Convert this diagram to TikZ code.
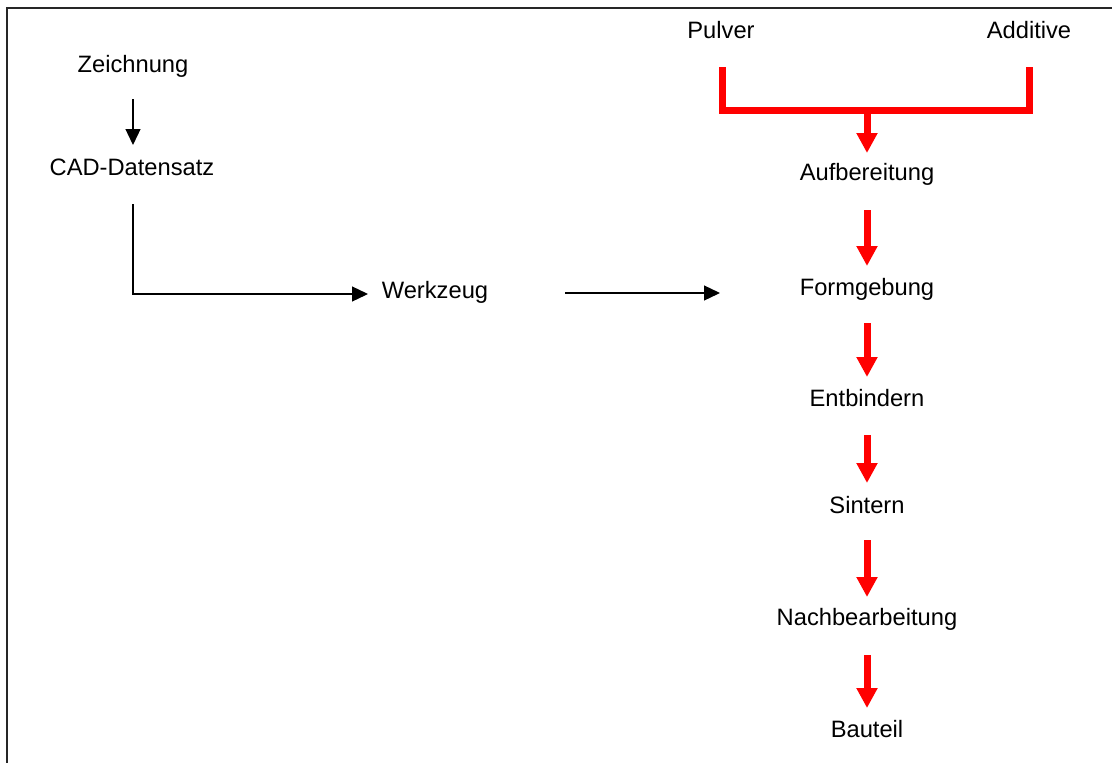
\documentclass[tikz,border=0pt]{standalone}
\usepackage{fontspec}
\setmainfont{Liberation Sans}
\usetikzlibrary{arrows.meta,calc}
\begin{document}
\begin{tikzpicture}[x=1pt,y=-1pt,
  lbl/.style={anchor=base,inner sep=0pt,font=\fontsize{23.7}{28}\selectfont},
  blk/.style={line width=1.3pt,-{Triangle[length=16pt,width=15pt]}},
  redarr/.style={draw=red,line width=7pt,-{Triangle[length=20pt,width=20pt]},red},
  redline/.style={draw=red,line width=7pt,line join=miter,line cap=butt},
  frame/.style={line width=1.7pt,draw=black!85}]
\useasboundingbox (0,0) rectangle (1112,763);
\draw[frame] (7,764) -- (7,8) -- (1113,8);
% left chain
\node[lbl] (zeich) at (133,72) {Zeichnung};
\node[lbl] (cad) at (132,175) {CAD-Datensatz};
\node[lbl] (werk) at (435,298) {Werkzeug};
% right chain
\node[lbl] (pulver) at (721,38) {Pulver};
\node[lbl] (additive) at (1029,38) {Additive};
\node[lbl] (aufb) at (867,180) {Aufbereitung};
\node[lbl] (form) at (867,295) {Formgebung};
\node[lbl] (entb) at (867,406) {Entbindern};
\node[lbl] (sint) at (867,513) {Sintern};
\node[lbl] (nach) at (867,625) {Nachbearbeitung};
\node[lbl] (baut) at (867,737) {Bauteil};
% black connectors
\draw[blk] ($(zeich.base)+(0,27)$) -- ($(cad.base)+(1,-30)$);
\draw[blk] ($(cad.base)+(1,29)$) |- ($(werk.base)+(-67,-4)$);
\draw[blk] ($(werk.base)+(130,-5)$) -- ($(form.base)+(-147,-2)$);
% red connectors
\coordinate (join) at ($(aufb.base)+(0,-70)$);
\draw[redline] ($(pulver.base)+(1,29)$) |- (join) -| ($(additive.base)+(0,29)$);
\draw[redarr] (join) -- ($(aufb.base)+(0,-27)$);
\draw[redarr] ($(aufb.base)+(0,30)$) -- ($(form.base)+(0,-29)$);
\draw[redarr] ($(form.base)+(0,28)$) -- ($(entb.base)+(0,-29)$);
\draw[redarr] ($(entb.base)+(0,29)$) -- ($(sint.base)+(0,-30)$);
\draw[redarr] ($(sint.base)+(0,27)$) -- ($(nach.base)+(0,-28)$);
\draw[redarr] ($(nach.base)+(0,30)$) -- ($(baut.base)+(0,-29)$);
\end{tikzpicture}
\end{document}
